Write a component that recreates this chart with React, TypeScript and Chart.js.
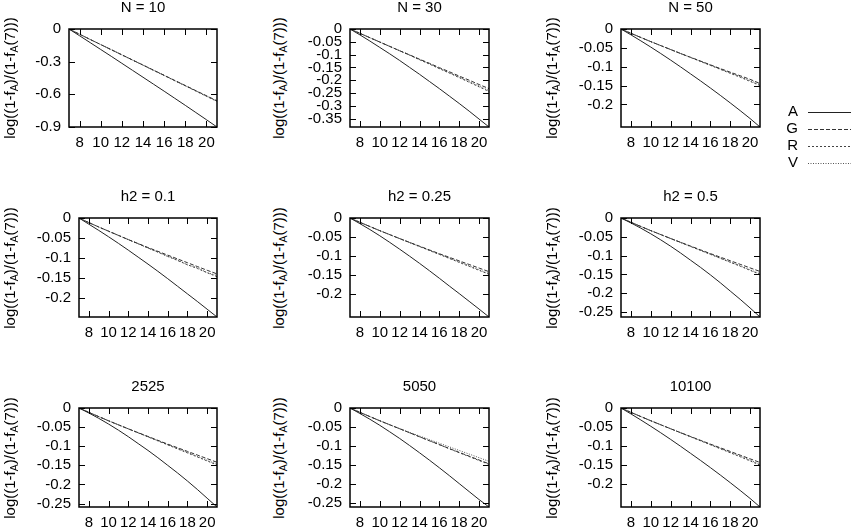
import React, { useEffect, useRef } from "react";
import { Chart, registerables } from "chart.js";

Chart.register(...registerables);

const FONT = '"Liberation Sans", Arial, Helvetica, sans-serif';
Chart.defaults.font.family = FONT;

// ---------- data ----------
const xValues = [7, 8, 9, 10, 11, 12, 13, 14, 15, 16, 17, 18, 19, 20, 21];
const xTicks = [8, 10, 12, 14, 16, 18, 20];
const seriesNames = ["A", "G", "R", "V"];
const panelTitles = ["N = 10", "N = 30", "N = 50", "h2 = 0.1", "h2 = 0.25", "h2 = 0.5", "2525", "5050", "10100"];

const yTicksN10 = [0, -0.3, -0.6, -0.9];
const yTicksN30 = [0, -0.05, -0.1, -0.15, -0.2, -0.25, -0.3, -0.35];
const yTicksTo020 = [0, -0.05, -0.1, -0.15, -0.2];
const yTicksTo025 = [0, -0.05, -0.1, -0.15, -0.2, -0.25];
const yMins = [-0.9, -0.383, -0.26, -0.248, -0.262, -0.263, -0.259, -0.26, -0.26];

const n10A = [0, -0.062, -0.125, -0.188, -0.251, -0.315, -0.379, -0.443, -0.507, -0.571, -0.636, -0.701, -0.767, -0.833, -0.9];
const n10G = [0, -0.048, -0.096, -0.143, -0.19, -0.237, -0.284, -0.331, -0.378, -0.425, -0.472, -0.519, -0.566, -0.613, -0.66];
const n10R = [0, -0.048, -0.096, -0.143, -0.19, -0.238, -0.285, -0.332, -0.38, -0.427, -0.475, -0.522, -0.57, -0.618, -0.665];
const n10V = [0, -0.048, -0.096, -0.143, -0.19, -0.237, -0.285, -0.332, -0.379, -0.426, -0.474, -0.521, -0.568, -0.615, -0.662];

const n30A = [0, -0.023, -0.047, -0.072, -0.097, -0.123, -0.15, -0.177, -0.205, -0.233, -0.262, -0.291, -0.321, -0.352, -0.383];
const n30G = [0, -0.017, -0.034, -0.051, -0.068, -0.085, -0.101, -0.118, -0.134, -0.151, -0.167, -0.184, -0.2, -0.217, -0.233];
const n30R = [0, -0.017, -0.034, -0.051, -0.068, -0.085, -0.102, -0.12, -0.137, -0.155, -0.172, -0.19, -0.208, -0.226, -0.244];
const n30V = [0, -0.017, -0.034, -0.051, -0.068, -0.085, -0.102, -0.119, -0.136, -0.154, -0.171, -0.188, -0.206, -0.223, -0.241];

const n50A = [0, -0.0155, -0.0315, -0.048, -0.065, -0.0825, -0.1005, -0.119, -0.1375, -0.1565, -0.176, -0.196, -0.2165, -0.2375, -0.26];
const n50G = [0, -0.0115, -0.0225, -0.0335, -0.044, -0.0545, -0.065, -0.075, -0.085, -0.095, -0.105, -0.1145, -0.124, -0.1335, -0.1445];
const n50R = [0, -0.0115, -0.0225, -0.0335, -0.044, -0.0545, -0.065, -0.0755, -0.086, -0.0965, -0.107, -0.1175, -0.128, -0.139, -0.15];
const n50V = [0, -0.0115, -0.0225, -0.0335, -0.044, -0.0545, -0.065, -0.0752, -0.0855, -0.0958, -0.106, -0.1163, -0.1265, -0.137, -0.1475];

const h01A = [0, -0.0155, -0.031, -0.047, -0.0635, -0.0805, -0.098, -0.1155, -0.1335, -0.152, -0.171, -0.19, -0.209, -0.2285, -0.248];
const h01G = [0, -0.0115, -0.0225, -0.033, -0.0435, -0.054, -0.064, -0.074, -0.0835, -0.093, -0.1025, -0.112, -0.1215, -0.131, -0.14];
const h01R = [0, -0.0115, -0.0225, -0.033, -0.0435, -0.054, -0.0645, -0.075, -0.0855, -0.096, -0.1065, -0.117, -0.1265, -0.137, -0.147];
const h01V = [0, -0.0115, -0.0225, -0.0335, -0.044, -0.0545, -0.0645, -0.0755, -0.085, -0.0965, -0.105, -0.1175, -0.1245, -0.137, -0.144];

const h025A = [0, -0.015, -0.0305, -0.047, -0.0645, -0.0825, -0.101, -0.12, -0.1395, -0.1595, -0.18, -0.2, -0.2205, -0.241, -0.262];
const h025G = [0, -0.0115, -0.0225, -0.0335, -0.044, -0.0545, -0.0645, -0.0745, -0.0845, -0.0945, -0.104, -0.1135, -0.123, -0.1325, -0.142];
const h025R = [0, -0.0115, -0.0225, -0.0335, -0.044, -0.0545, -0.065, -0.0755, -0.086, -0.0965, -0.107, -0.1175, -0.128, -0.1385, -0.149];
const h025V = [0, -0.0115, -0.0225, -0.0335, -0.044, -0.0545, -0.065, -0.0752, -0.0855, -0.0958, -0.106, -0.116, -0.1265, -0.137, -0.147];

const h05A = [0, -0.013, -0.027, -0.042, -0.058, -0.075, -0.093, -0.112, -0.131, -0.151, -0.172, -0.194, -0.216, -0.239, -0.263];
const h05G = [0, -0.0115, -0.0225, -0.0335, -0.044, -0.0545, -0.0645, -0.0745, -0.0845, -0.0945, -0.104, -0.1135, -0.123, -0.1325, -0.142];
const h05R = [0, -0.0115, -0.0225, -0.0335, -0.044, -0.0545, -0.065, -0.0755, -0.086, -0.0965, -0.107, -0.1175, -0.128, -0.139, -0.15];
const h05V = [0, -0.0115, -0.0225, -0.0335, -0.044, -0.0545, -0.065, -0.0755, -0.0858, -0.096, -0.1065, -0.117, -0.127, -0.1375, -0.148];

const p2525A = [0, -0.013, -0.027, -0.042, -0.058, -0.075, -0.093, -0.111, -0.13, -0.15, -0.17, -0.191, -0.213, -0.236, -0.259];
const p2525G = [0, -0.0115, -0.0225, -0.0335, -0.044, -0.0545, -0.0645, -0.0745, -0.0845, -0.0945, -0.104, -0.1135, -0.123, -0.1325, -0.142];
const p2525R = [0, -0.0115, -0.0225, -0.0335, -0.044, -0.0545, -0.065, -0.0755, -0.086, -0.0965, -0.107, -0.1175, -0.128, -0.1385, -0.149];
const p2525V = [0, -0.0115, -0.0225, -0.0335, -0.044, -0.0545, -0.065, -0.0752, -0.0855, -0.0958, -0.106, -0.1162, -0.1265, -0.137, -0.147];

const p5050A = [0, -0.0145, -0.0295, -0.0455, -0.0625, -0.08, -0.0985, -0.1175, -0.137, -0.157, -0.1775, -0.1985, -0.2195, -0.2405, -0.26];
const p5050G = [0, -0.0115, -0.0225, -0.0335, -0.044, -0.0545, -0.065, -0.0755, -0.086, -0.096, -0.1065, -0.1165, -0.1265, -0.1365, -0.1465];
const p5050R = [0, -0.0115, -0.0225, -0.0335, -0.044, -0.0545, -0.065, -0.0755, -0.086, -0.0965, -0.107, -0.1175, -0.1275, -0.138, -0.148];
const p5050V = [0, -0.0115, -0.0225, -0.0335, -0.044, -0.054, -0.064, -0.0735, -0.083, -0.0925, -0.102, -0.1115, -0.121, -0.1305, -0.14];

const p10100A = [0, -0.0155, -0.0315, -0.048, -0.065, -0.0825, -0.1005, -0.119, -0.1375, -0.1565, -0.176, -0.196, -0.2165, -0.2375, -0.26];
const p10100G = [0, -0.0115, -0.0225, -0.0335, -0.044, -0.0545, -0.0648, -0.0748, -0.0848, -0.0948, -0.1045, -0.114, -0.1238, -0.1335, -0.143];
const p10100R = [0, -0.0115, -0.0225, -0.0335, -0.044, -0.0545, -0.065, -0.0755, -0.086, -0.0965, -0.107, -0.1175, -0.128, -0.139, -0.15];
const p10100V = [0, -0.0115, -0.0225, -0.0335, -0.044, -0.0545, -0.065, -0.0752, -0.0855, -0.0958, -0.106, -0.1163, -0.1265, -0.137, -0.148];

// ---------- layout / styles ----------
const seriesStyles = [
  { color: "#222", dash: [] as number[] },
  { color: "#333", dash: [4, 2] },
  { color: "#444", dash: [2, 2] },
  { color: "#555", dash: [1, 1.5] },
];

const colBoxRight = [217, 489, 760];
const rowBoxTop = [29, 218, 408];
const rowBoxBottom = [127, 317, 507];
const boxLefts = [69, 350, 621, 79, 350, 621, 79, 350, 621];
const yTitleCenterX = [9.5, 278.5, 551.5];

const YW = 60;
const TH = 30;
const XH = 22;
const TICK = 6;
const LEGEND_EXTRA = 50;

type PanelSpec = {
  title: string;
  yTicks: number[];
  yMin: number;
  series: number[][];
  boxLeft: number;
  boxRight: number;
  boxTop: number;
  boxBottom: number;
  legend: boolean;
};

const panelTicks = [yTicksN10, yTicksN30, yTicksTo020, yTicksTo020, yTicksTo020, yTicksTo025, yTicksTo025, yTicksTo025, yTicksTo020];
const panelSeries = [
  [n10A, n10G, n10R, n10V],
  [n30A, n30G, n30R, n30V],
  [n50A, n50G, n50R, n50V],
  [h01A, h01G, h01R, h01V],
  [h025A, h025G, h025R, h025V],
  [h05A, h05G, h05R, h05V],
  [p2525A, p2525G, p2525R, p2525V],
  [p5050A, p5050G, p5050R, p5050V],
  [p10100A, p10100G, p10100R, p10100V],
];

const panels: PanelSpec[] = panelTitles.map((title, i) => ({
  title,
  yTicks: panelTicks[i],
  yMin: yMins[i],
  series: panelSeries[i],
  boxLeft: boxLefts[i],
  boxRight: colBoxRight[i % 3],
  boxTop: rowBoxTop[Math.floor(i / 3)],
  boxBottom: rowBoxBottom[Math.floor(i / 3)],
  legend: i === 2,
}));

const fmt = (v: number) => String(Math.round(v * 1000) / 1000);

const framePlugin = {
  id: "gnuframe",
  afterDatasetsDraw(chart: any) {
    const { ctx, chartArea, scales } = chart;
    const { left, right, top, bottom } = chartArea;
    ctx.save();
    ctx.strokeStyle = "#000";
    ctx.lineWidth = 1;
    ctx.beginPath();
    for (const t of scales.x.ticks) {
      const px = Math.round(scales.x.getPixelForValue(t.value)) + 0.5;
      ctx.moveTo(px, bottom);
      ctx.lineTo(px, bottom - TICK);
      ctx.moveTo(px, top);
      ctx.lineTo(px, top + TICK);
    }
    for (const t of scales.y.ticks) {
      const py = Math.round(scales.y.getPixelForValue(t.value)) + 0.5;
      ctx.moveTo(left, py);
      ctx.lineTo(left + TICK, py);
      ctx.moveTo(right, py);
      ctx.lineTo(right - TICK, py);
    }
    ctx.stroke();
    ctx.lineWidth = 1.5;
    ctx.strokeRect(left, top, right - left, bottom - top);
    ctx.restore();
  },
};

function makeLegendPlugin(originX: number, originY: number, canvasWidth: number) {
  return {
    id: "gnulegend",
    afterDraw(chart: any) {
      const { ctx } = chart;
      ctx.save();
      ctx.font = `15px ${FONT}`;
      ctx.fillStyle = "#000";
      ctx.textAlign = "right";
      ctx.textBaseline = "middle";
      chart.data.datasets.forEach((ds: any, i: number) => {
        const y = 112 + i * 17 - originY;
        ctx.fillText(ds.label, 798 - originX, y);
        ctx.beginPath();
        ctx.strokeStyle = ds.borderColor;
        ctx.lineWidth = 1;
        ctx.setLineDash(ds.borderDash || []);
        ctx.moveTo(808 - originX, Math.round(y) + 0.5);
        ctx.lineTo(canvasWidth + 5, Math.round(y) + 0.5);
        ctx.stroke();
      });
      ctx.restore();
    },
  };
}

function Panel({ spec }: { spec: PanelSpec }) {
  const ref = useRef<HTMLCanvasElement>(null);
  const PR = spec.legend ? 851 - spec.boxRight : 10;
  const PB = spec.legend ? LEGEND_EXTRA : 0;
  const left = spec.boxLeft - YW;
  const top = spec.boxTop - TH;
  const width = spec.boxRight + PR - left;
  const height = TH + (spec.boxBottom - spec.boxTop) + XH + PB;

  useEffect(() => {
    const tickFont = { size: 15, family: FONT };
    const plugins: any[] = [framePlugin];
    if (spec.legend) plugins.push(makeLegendPlugin(left, top, width));
    const chart = new Chart(ref.current as HTMLCanvasElement, {
      type: "line",
      data: {
        datasets: spec.series.map((arr, si) => ({
          label: seriesNames[si],
          data: xValues.map((x, k) => ({ x, y: arr[k] })),
          borderColor: seriesStyles[si].color,
          borderDash: seriesStyles[si].dash,
          borderWidth: 1,
          pointRadius: 0,
          fill: false,
          tension: 0,
        })),
      },
      options: {
        animation: false,
        responsive: false,
        devicePixelRatio: 1,
        layout: { padding: { left: 0, right: PR, top: 0, bottom: PB } },
        plugins: {
          legend: { display: false },
          tooltip: { enabled: false },
          title: {
            display: true,
            text: spec.title,
            fullSize: false,
            color: "#000",
            font: { size: 15, weight: "normal", family: FONT },
            padding: { top: 0, bottom: TH - 18 },
          },
        },
        scales: {
          x: {
            type: "linear",
            min: 7,
            max: 21,
            grid: { display: false, drawTicks: false },
            border: { display: false },
            ticks: { font: tickFont, color: "#000", padding: 7, autoSkip: false, maxRotation: 0, callback: (v: any) => fmt(Number(v)) },
            afterBuildTicks: (s: any) => {
              s.ticks = xTicks.map((v) => ({ value: v }));
            },
            afterFit: (s: any) => {
              s.height = XH;
            },
          },
          y: {
            type: "linear",
            min: spec.yMin,
            max: 0,
            grid: { display: false, drawTicks: false },
            border: { display: false },
            ticks: { font: tickFont, color: "#000", padding: 8, autoSkip: false, callback: (v: any) => fmt(Number(v)) },
            afterBuildTicks: (s: any) => {
              s.ticks = spec.yTicks.map((v) => ({ value: v }));
            },
            afterFit: (s: any) => {
              s.width = YW;
            },
          },
        },
      } as any,
      plugins,
    });
    return () => chart.destroy();
  }, []);

  return (
    <canvas
      ref={ref}
      width={width}
      height={height}
      style={{ position: "absolute", left, top, width, height, display: "block" }}
    />
  );
}

function YTitle({ cx, cy }: { cx: number; cy: number }) {
  const sub: React.CSSProperties = { fontSize: "70%", position: "relative", top: "0.3em" };
  return (
    <div
      style={{
        position: "absolute",
        left: cx,
        top: cy,
        transform: "translate(-50%, -50%) rotate(-90deg)",
        whiteSpace: "nowrap",
        font: `15px ${FONT}`,
        lineHeight: "17px",
        color: "#000",
      }}
    >
      log((1-f<span style={sub}>A</span>)/(1-f<span style={sub}>A</span>(7)))
    </div>
  );
}

export default function App() {
  return (
    <div
      style={{
        position: "absolute",
        left: 0,
        top: 0,
        width: 851,
        height: 527,
        overflow: "hidden",
        background: "#fff",
      }}
    >
      {panels.map((p, i) => (
        <Panel key={i} spec={p} />
      ))}
      {panels.map((p, i) => (
        <YTitle key={"t" + i} cx={yTitleCenterX[i % 3]} cy={(p.boxTop + p.boxBottom) / 2} />
      ))}
    </div>
  );
}
